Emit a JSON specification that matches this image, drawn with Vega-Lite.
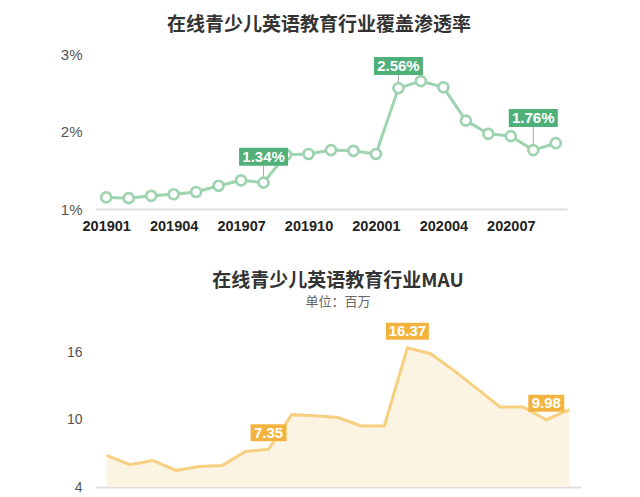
{
  "$schema": "https://vega.github.io/schema/vega-lite/v6.json",
  "background": "white",
  "padding": {"left": 60, "top": 16, "right": 5, "bottom": 0},
  "spacing": 38,
  "config": {"view": {"stroke": null}, "font": "Liberation Sans"},
  "data": {
    "values": [
      {"month": "201901", "rate": 0.0115, "mau": 6.81},
      {"month": "201902", "rate": 0.0114, "mau": 5.98},
      {"month": "201903", "rate": 0.0117, "mau": 6.36},
      {"month": "201904", "rate": 0.0119, "mau": 5.48},
      {"month": "201905", "rate": 0.0122, "mau": 5.83},
      {"month": "201906", "rate": 0.0130, "mau": 5.92},
      {"month": "201907", "rate": 0.0137, "mau": 7.16},
      {"month": "201908", "rate": 0.0134, "mau": 7.35},
      {"month": "201909", "rate": 0.0170, "mau": 10.43},
      {"month": "201910", "rate": 0.0171, "mau": 10.33},
      {"month": "201911", "rate": 0.0176, "mau": 10.18},
      {"month": "201912", "rate": 0.0175, "mau": 9.42},
      {"month": "202001", "rate": 0.0171, "mau": 9.42},
      {"month": "202002", "rate": 0.0256, "mau": 16.37},
      {"month": "202003", "rate": 0.0265, "mau": 15.85},
      {"month": "202004", "rate": 0.0257, "mau": 14.37},
      {"month": "202005", "rate": 0.0214, "mau": 12.74},
      {"month": "202006", "rate": 0.0197, "mau": 11.11},
      {"month": "202007", "rate": 0.0194, "mau": 11.11},
      {"month": "202008", "rate": 0.0176, "mau": 9.98},
      {"month": "202009", "rate": 0.0185, "mau": 10.87}
    ]
  },
  "vconcat": [
    {
      "width": 472,
      "height": 155,
      "title": {
        "text": "在线青少儿英语教育行业覆盖渗透率",
        "font": "Noto Sans CJK SC",
        "fontSize": 19,
        "fontWeight": "bold",
        "color": "#333333",
        "anchor": "middle",
        "dx": -12,
        "offset": 12
      },
      "encoding": {
        "x": {
          "field": "month",
          "type": "ordinal",
          "scale": {"type": "point", "padding": 0.5},
          "axis": {
            "title": null,
            "values": ["201901", "201904", "201907", "201910", "202001", "202004", "202007"],
            "labelAngle": 0,
            "labelFontSize": 14.5,
            "labelFontWeight": "bold",
            "labelColor": "#222222",
            "labelPadding": 10,
            "ticks": false,
            "grid": false,
            "domainColor": "#e0e0e0",
            "domainWidth": 2
          }
        },
        "y": {
          "field": "rate",
          "type": "quantitative",
          "scale": {"domain": [0.01, 0.03], "nice": false, "zero": false},
          "axis": {
            "title": null,
            "values": [0.01, 0.02, 0.03],
            "format": ".0%",
            "domain": false,
            "ticks": false,
            "grid": false,
            "labelFontSize": 15,
            "labelColor": "#555555",
            "labelPadding": 13
          }
        }
      },
      "layer": [
        {"mark": {"type": "line", "color": "#9ed3b0", "strokeWidth": 3}},
        {
          "transform": [{"filter": {"field": "month", "oneOf": ["201908", "202002", "202008"]}}],
          "mark": {
            "type": "rule",
            "color": "#a8a8a8",
            "strokeWidth": 1,
            "yOffset": {"expr": "datum.month === '202002' ? -13 : datum.month === '201908' ? -17 : -23"},
            "y2Offset": -5
          },
          "encoding": {"y2": {"field": "rate"}}
        },
        {"mark": {"type": "point", "shape": "circle", "filled": true, "fill": "white", "stroke": "#9ed3b0", "strokeWidth": 2.6, "size": 100, "opacity": 1}},
        {
          "transform": [{"filter": {"field": "month", "oneOf": ["201908", "202002", "202008"]}}],
          "mark": {
            "type": "bar",
            "width": 49,
            "color": "#4fb07a",
            "yOffset": {"expr": "datum.month === '202002' ? -31 : datum.month === '201908' ? -35 : -41"},
            "y2Offset": {"expr": "datum.month === '202002' ? -13 : datum.month === '201908' ? -17 : -23"}
          },
          "encoding": {"y2": {"field": "rate"}}
        },
        {
          "transform": [{"filter": {"field": "month", "oneOf": ["201908", "202002", "202008"]}}],
          "mark": {
            "type": "text",
            "color": "white",
            "fontSize": 15,
            "fontWeight": "bold",
            "baseline": "middle",
            "yOffset": {"expr": "datum.month === '202002' ? -22 : datum.month === '201908' ? -26 : -32"}
          },
          "encoding": {"text": {"field": "rate", "type": "quantitative", "format": ".2%"}}
        }
      ]
    },
    {
      "width": 486,
      "height": 135,
      "title": {
        "text": "在线青少儿英语教育行业MAU",
        "subtitle": "单位：百万",
        "font": "Noto Sans CJK SC",
        "fontSize": 19,
        "fontWeight": "bold",
        "color": "#333333",
        "subtitleFont": "Noto Sans CJK SC",
        "subtitleFontSize": 13,
        "subtitleColor": "#666666",
        "subtitlePadding": 5,
        "anchor": "middle",
        "offset": 14
      },
      "encoding": {
        "x": {
          "field": "month",
          "type": "ordinal",
          "scale": {"type": "point", "padding": 0.5},
          "axis": {
            "title": null,
            "labels": false,
            "ticks": false,
            "grid": false,
            "domainColor": "#e0e0e0",
            "domainWidth": 2
          }
        },
        "y": {
          "field": "mau",
          "type": "quantitative",
          "scale": {"domain": [4, 16], "nice": false, "zero": false},
          "axis": {
            "title": null,
            "values": [4, 10, 16],
            "domain": false,
            "ticks": false,
            "grid": false,
            "labelFontSize": 14,
            "labelColor": "#555555",
            "labelPadding": 13
          }
        }
      },
      "layer": [
        {
          "mark": {"type": "area", "color": "#fbf4e2", "opacity": 1},
          "encoding": {"y2": {"datum": 4}}
        },
        {"mark": {"type": "line", "color": "#f7cf80", "strokeWidth": 3}},
        {
          "transform": [{"filter": {"field": "month", "oneOf": ["201908", "202002", "202008"]}}],
          "mark": {
            "type": "bar",
            "width": {"expr": "datum.mau >= 10 ? 43 : 36"},
            "color": "#f2b43e",
            "yOffset": -25,
            "y2Offset": -8
          },
          "encoding": {"y2": {"field": "mau"}}
        },
        {
          "transform": [{"filter": {"field": "month", "oneOf": ["201908", "202002", "202008"]}}],
          "mark": {
            "type": "text",
            "color": "white",
            "fontSize": 15,
            "fontWeight": "bold",
            "baseline": "middle",
            "yOffset": -16.5
          },
          "encoding": {"text": {"field": "mau", "type": "quantitative", "format": ".2f"}}
        }
      ]
    }
  ]
}
